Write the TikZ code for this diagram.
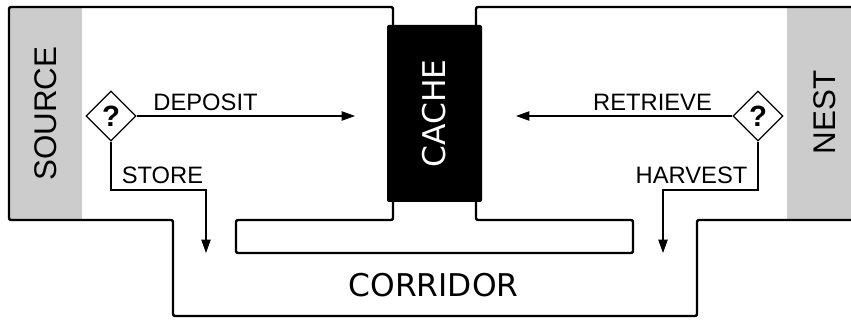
\documentclass[tikz,border=0pt]{standalone}
\usepackage{fontspec}
\setmainfont{Liberation Sans}
\newfontfamily\roomfont{DejaVu Sans}
\usepackage{tikz}
\usetikzlibrary{shapes.geometric, arrows.meta, positioning}
\definecolor{zonegray}{HTML}{CCCCCC}
\tikzset{
	wall/.style={line width=1.8pt, rounded corners=1.5pt}
}
\tikzset{
	flow/.style={line width=0.8pt, -{Triangle[length=10pt,width=7pt]}}
}
\tikzset{
	steplabel/.style={font=\fontsize{17.8}{17.8}\selectfont},
	sidelabel/.style={font=\fontsize{23.5}{23.5}\selectfont, rotate=90},
	roomlabel/.style={font=\roomfont\fontsize{23.5}{23.5}\selectfont},
	choice/.style={draw, diamond, shape aspect=1, minimum size=37.5pt, inner sep=0pt,
		line width=0.9pt, fill=white, font=\bfseries\fontsize{22}{22}\selectfont},
	cachebox/.style={fill=black, rounded corners=1.5pt, rotate=90, minimum width=132.75pt,
		minimum height=71.25pt, text=white, font=\roomfont\fontsize{23.5}{23.5}\selectfont}
}

\begin{document}
\begin{tikzpicture}[x=0.75pt, y=-0.75pt]
      \useasboundingbox (0,0) rectangle (851,320);
      % side zones
      \fill[zonegray] (9,7) rectangle (82,220);
      \fill[zonegray] (787,7) rectangle (851,220);
      \node[sidelabel] (source) at (46,113.5) {SOURCE};
      \node[sidelabel] (nest) at (825,112.5) {NEST};
      % walls
      \draw[wall] (393,40) -- (393,7) -- (9,7) -- (9,220) -- (173,220) -- (173,316) -- (697,316) -- (697,220) -- (851,220);
      \draw[wall] (476,40) -- (476,7) -- (851,7);
      \draw[wall] (393,180) -- (393,220) -- (236,220) -- (236,253) -- (633,253) -- (633,220) -- (476,220) -- (476,180);
      \node[cachebox] (cache) at (434.5,113.5) {CACHE};
      \node[roomlabel] (corridor) at (433.5,285) {CORRIDOR};
      % decisions
      \node[choice] (lchoice) at (111,116) {?};
      \node[choice] (rchoice) at (758,116) {?};
      \coordinate (deptip) at (355,116);
      \coordinate (rettip) at (516,116);
      \coordinate (storebend) at (206,190);
      \coordinate (storetip) at (206,253);
      \coordinate (harvbend) at (663,190);
      \coordinate (harvtip) at (663,253);
      \draw[flow] (lchoice.east) -- (deptip);
      \draw[flow] (rchoice.west) -- (rettip);
      \draw[flow] (lchoice.south) |- (storebend) -- (storetip);
      \draw[flow] (rchoice.south) |- (harvbend) -- (harvtip);
      \node[steplabel] (deposit) at (205.5,102.5) {DEPOSIT};
      \node[steplabel] (store) at (162.5,175.5) {STORE};
      \node[steplabel] (retrieve) at (652.5,102.5) {RETRIEVE};
      \node[steplabel] (harvest) at (691.5,175) {HARVEST};
    \end{tikzpicture}
\end{document}
